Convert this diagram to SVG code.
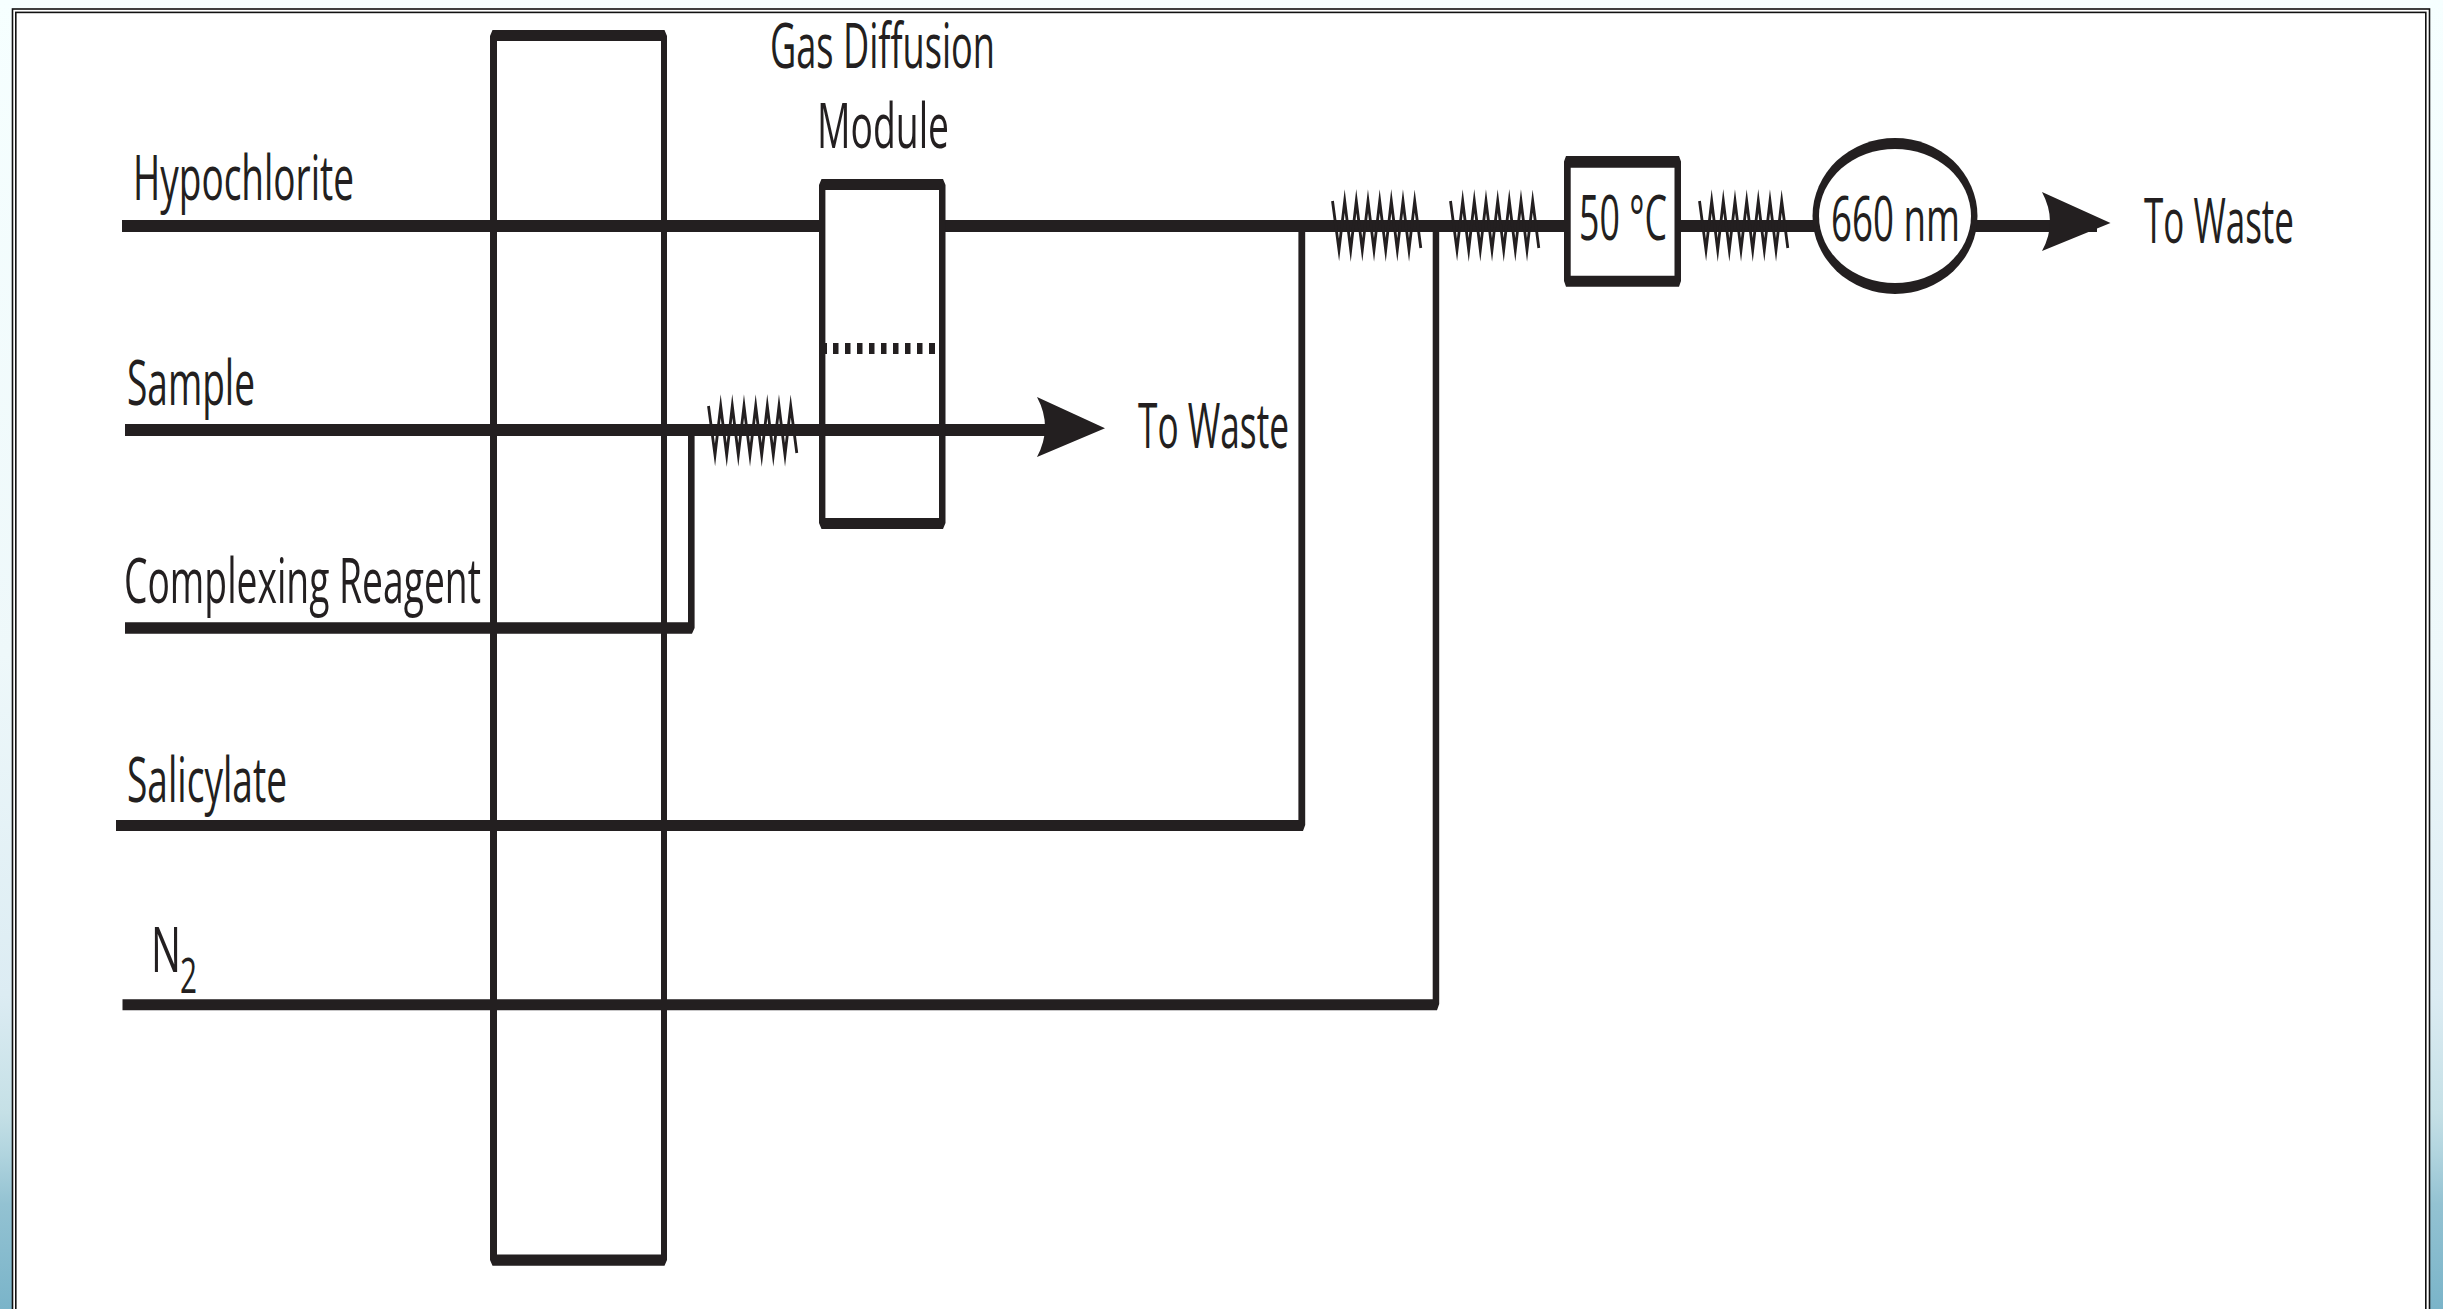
<svg xmlns="http://www.w3.org/2000/svg" xmlns:xlink="http://www.w3.org/1999/xlink" width="2443" height="1309" viewBox="0 0 2443 1309">
<style>
.k{fill:#231f20}
.o{fill:#231f20;fill-rule:evenodd}
.w{fill:#fff}
.f{fill:none;stroke:#111;stroke-width:1.6}
.coil{fill:none;stroke:#231f20;stroke-width:2.8;stroke-linejoin:miter;stroke-miterlimit:40}
.t{font-family:"Open Sans","Noto Sans",sans-serif;font-size:62px;fill:#231f20}
</style>
<defs>
<linearGradient id="bg" x1="0" y1="0" x2="0" y2="1">
<stop offset="0" stop-color="#f6ffff"/>
<stop offset="0.5" stop-color="#eef8fa"/>
<stop offset="0.76" stop-color="#dcecf3"/>
<stop offset="0.85" stop-color="#c5e0e6"/>
<stop offset="0.88" stop-color="#b2d5df"/>
<stop offset="0.92" stop-color="#93c2d2"/>
<stop offset="1" stop-color="#7ab4c9"/>
</linearGradient>
<path id="coil" class="coil" d="M708.5,406 L715,455 L720.7,406 L726.7,455 L732.3,406 L738.3,455 L744,406 L750,455 L755.7,406 L761.7,455 L767.3,406 L773.3,455 L779,406 L785,455 L790.7,406 L796.8,453"/>
</defs>
<rect id="background" width="2443" height="1309" fill="url(#bg)"/>
<g id="frame">
<rect x="12.5" y="9" width="2417" height="1320" class="w"/>
<rect x="12.5" y="9" width="2417" height="1320" class="f"/>
<rect x="15.8" y="12.4" width="2410" height="1320" class="f"/>
</g>
<g id="connectors">
<path id="line-hypochlorite" class="k" d="M122,220H819V232H122Z M945,220H1564V232H945Z M1681,220H1815V232H1681Z M1975,220H2097V232H1975Z"/>
<path id="line-sample" class="k" d="M125,424H1048V436H125Z"/>
<path id="line-complexing" class="k" d="M125,622.3H688V436H694.6V628L692,633.7H125Z"/>
<path id="line-salicylate" class="k" d="M116,820H1298.4V232H1305.2V825L1303,831H116Z"/>
<path id="line-n2" class="k" d="M122.5,999.2H1432.7V232H1439.2V1004L1437,1010.2H122.5Z"/>
<path id="arrow-sample" class="k" d="M1037,397 L1105,428.3 L1037,457 Q1053,427 1037,397Z"/>
<path id="arrow-out" class="k" d="M2042,192 L2110.5,223 L2042,251 Q2058,222 2042,192Z"/>
<use id="coil-1" xlink:href="#coil" href="#coil"/>
<use id="coil-2" xlink:href="#coil" href="#coil" transform="translate(624,-205)"/>
<use id="coil-3" xlink:href="#coil" href="#coil" transform="translate(742,-205)"/>
<use id="coil-4" xlink:href="#coil" href="#coil" transform="translate(991,-205)"/>
</g>
<g id="valve">
<path class="o" d="M492.5,30H664.5L667,36V1260L664.5,1265.7H492.5L490,1260V36Z M497,41V1254.5H661V41Z"/>
</g>
<g id="gas-diffusion-module">
<path class="o" d="M821.5,179H943L945.5,185V523L943,529H821.5L819,523V185Z M825.4,190V518H939V190Z"/>
<path class="k" d="M825,343H827V354H825Z M833,343h5.5v11H833Z M845,343h5.5v11H845Z M857,343h5.5v11H857Z M869,343h5.5v11H869Z M881,343h5.5v11H881Z M893,343h5.5v11H893Z M905,343h5.5v11H905Z M917,343h5.5v11H917Z M929,343h6v11H929Z"/>
<text class="t" x="770" y="68.3" textLength="225" lengthAdjust="spacingAndGlyphs">Gas Diffusion</text>
<text class="t" x="817" y="148.3" textLength="132" lengthAdjust="spacingAndGlyphs">Module</text>
</g>
<g id="heater">
<path class="o" d="M1566,156H1679L1681,161.5V281L1679,286.7H1566L1564,281V161.5Z M1570.7,167.7V275.7H1674.5V167.7Z"/>
<text class="t" x="1579" y="240" textLength="88" lengthAdjust="spacingAndGlyphs">50 °C</text>
</g>
<g id="detector">
<ellipse class="k" cx="1895" cy="216" rx="82.5" ry="78"/>
<ellipse class="w" cx="1895" cy="216" rx="76" ry="67"/>
<text class="t" x="1831" y="241" textLength="129" lengthAdjust="spacingAndGlyphs">660 nm</text>
</g>
<g id="labels">
<text class="t" x="133" y="200" textLength="221" lengthAdjust="spacingAndGlyphs">Hypochlorite</text>
<text class="t" x="127" y="405" textLength="128" lengthAdjust="spacingAndGlyphs">Sample</text>
<text class="t" x="124" y="602.7" textLength="357" lengthAdjust="spacingAndGlyphs">Complexing Reagent</text>
<text class="t" x="127" y="802" textLength="160" lengthAdjust="spacingAndGlyphs">Salicylate</text>
<text class="t" x="151" y="971.7"><tspan textLength="30" lengthAdjust="spacingAndGlyphs">N</tspan><tspan x="180" y="993.3" style="font-size:50px" textLength="17" lengthAdjust="spacingAndGlyphs">2</tspan></text>
<text class="t" x="1138" y="447.7" textLength="151" lengthAdjust="spacingAndGlyphs">To Waste</text>
<text class="t" x="2144" y="243" textLength="150" lengthAdjust="spacingAndGlyphs">To Waste</text>
</g>
</svg>
